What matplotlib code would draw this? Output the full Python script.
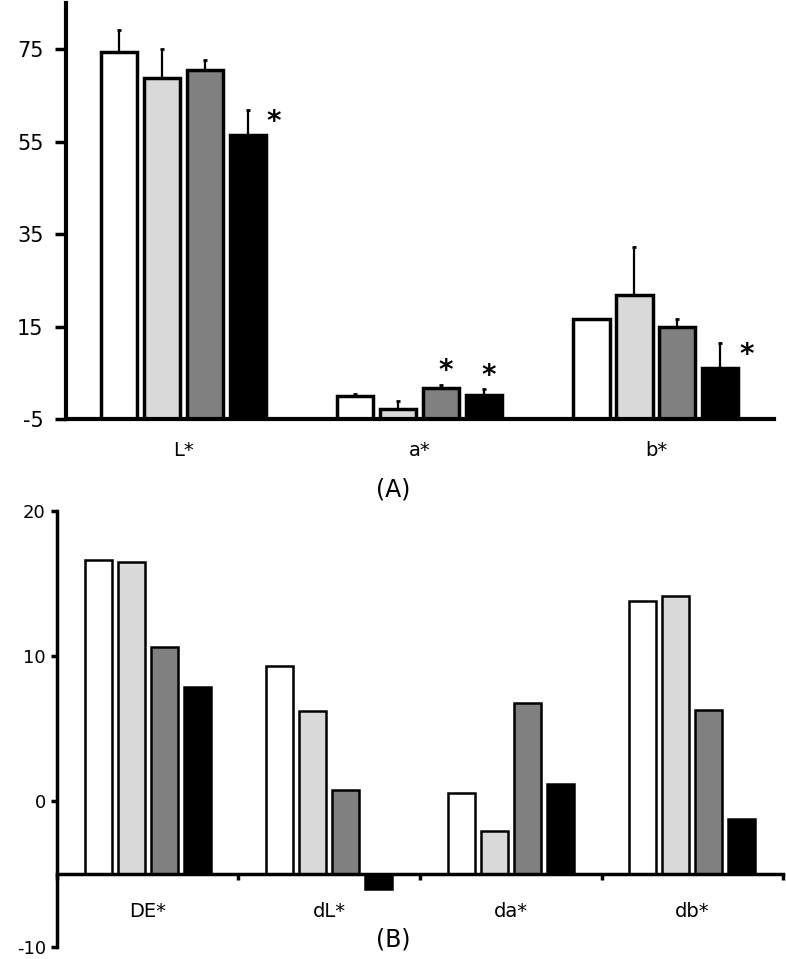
import matplotlib
matplotlib.use('Agg')
import matplotlib.pyplot as plt
import numpy as np

plt.rcParams['font.family'] = ['DejaVu Sans']

# ---------------- data ----------------
bar_colors = ['#ffffff', '#d9d9d9', '#808080', '#000000']

cats_A = ['L*', 'a*', 'b*']
ticks_A = [-5, 15, 35, 55, 75]
vals_A = [
    [74.3, 0.0, 16.6],
    [68.7, -2.8, 21.8],
    [70.6, 1.6, 15.0],
    [56.4, 0.1, 6.0],
]
err_A = [
    [4.8, 0.3, 0.0],
    [6.4, 1.6, 10.5],
    [2.0, 0.8, 1.6],
    [5.4, 1.3, 5.4],
]
sig_A = [
    [False, False, False],
    [False, False, False],
    [False, True, False],
    [True, True, True],
]

cats_B = ['DE*', 'dL*', 'da*', 'db*']
ticks_B = [-10, 0, 10, 20]
vals_B = [
    [16.6, 9.3, 0.6, 13.8],
    [16.5, 6.2, -2.05, 14.1],
    [10.6, 0.8, 6.8, 6.3],
    [7.85, -6.0, 1.2, -1.2],
]

# ---------------- figure ----------------
fig = plt.figure(figsize=(7.86, 9.59), dpi=100)

# ----- panel A -----
ax1 = fig.add_axes([0.0836, 0.5631, 0.9011, 0.4338])
base_A = -5
step = 0.182
width_A = 0.153
xA = np.arange(len(cats_A))
for i, (vals, errs, col) in enumerate(zip(vals_A, err_A, bar_colors)):
    pos = xA + (i - 1.5) * step
    v = np.array(vals)
    ax1.bar(pos, v - base_A, bottom=base_A, width=width_A, color=col,
            edgecolor='black', linewidth=2.5, zorder=2)
    ax1.errorbar(pos, v, yerr=[np.zeros(len(v)), np.array(errs)], fmt='none',
                 ecolor='black', elinewidth=1.6, capsize=1.5, capthick=2.0, zorder=3)
    for j, s in enumerate(sig_A[i]):
        if s:
            top = vals[j] + errs[j]
            if cats_A[j] == 'a*':
                ax1.text(pos[j] + 0.02, top + 3.0, '*', ha='center', va='center',
                         fontsize=20, fontweight='bold', zorder=4)
            else:
                ax1.text(pos[j] + 0.11, top - 2.6, '*', ha='center', va='center',
                         fontsize=20, fontweight='bold', zorder=4)

ax1.set_xlim(-0.5, 2.5)
ax1.set_ylim(-5, 85)
ax1.set_yticks(ticks_A)
ax1.set_yticklabels([str(t) for t in ticks_A], fontsize=15)
ax1.set_xticks(xA)
ax1.set_xticklabels(cats_A, fontsize=14)
ax1.tick_params(axis='x', length=0, pad=16)
ax1.tick_params(axis='y', direction='out', length=8, width=2.5, pad=8)
for s in ['top', 'right']:
    ax1.spines[s].set_visible(False)
ax1.spines['left'].set_linewidth(3)
ax1.spines['bottom'].set_linewidth(3)
ax1.spines['left'].set_zorder(5)
ax1.spines['bottom'].set_zorder(5)

fig.text(0.5, 1 - 489 / 959, '(A)', ha='center', va='center', fontsize=17)

# ----- panel B -----
ax2 = fig.add_axes([0.0725, 0.0128, 0.9237, 0.4547])
base_B = -5
width_B = 0.149
xB = np.arange(len(cats_B))
for i, (vals, col) in enumerate(zip(vals_B, bar_colors)):
    pos = xB + (i - 1.5) * step
    v = np.array(vals)
    ax2.bar(pos, v - base_B, bottom=base_B, width=width_B, color=col,
            edgecolor='black', linewidth=1.8, zorder=2)

ax2.set_xlim(-0.5, 3.5)
ax2.set_ylim(-10, 20)
ax2.set_yticks(ticks_B)
ax2.set_yticklabels([str(t) for t in ticks_B], fontsize=13)
ax2.tick_params(axis='y', direction='out', length=4, width=2.5, pad=4)
ax2.spines['bottom'].set_position(('data', base_B))
ax2.set_xticks(np.arange(len(cats_B) + 1) - 0.5)
ax2.set_xticklabels([])
ax2.tick_params(axis='x', which='major', direction='out', length=4, width=2.5)
ax2.set_xticks(xB, minor=True)
ax2.set_xticklabels(cats_B, minor=True, fontsize=14)
ax2.tick_params(axis='x', which='minor', length=0, pad=20)
for s in ['top', 'right']:
    ax2.spines[s].set_visible(False)
ax2.spines['left'].set_linewidth(2.5)
ax2.spines['bottom'].set_linewidth(2.5)
ax2.spines['left'].set_zorder(5)
ax2.spines['bottom'].set_zorder(5)

fig.text(0.5, 1 - 940 / 959, '(B)', ha='center', va='center', fontsize=17)

fig.savefig('out.png', dpi=100)
